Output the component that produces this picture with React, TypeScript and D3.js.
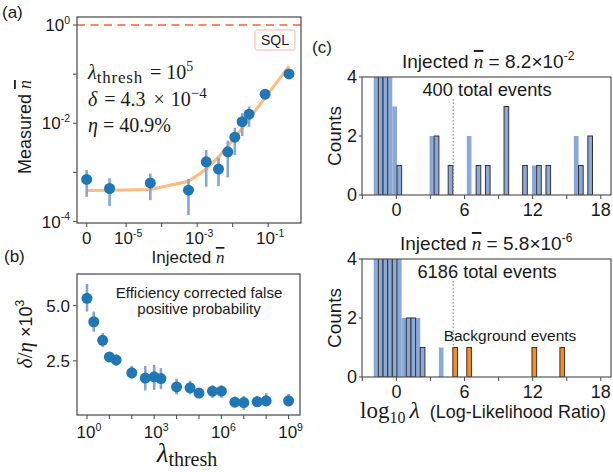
import React from "react"
import * as d3 from "d3"

// ---- panel (a): measured vs injected mean photon number ----
const injected = [0, 5.8e-6, 4.8e-5, 5.7e-4, 1.8e-3, 4.0e-3, 7.3e-3, 1.15e-2, 1.85e-2, 2.9e-2, 8.2e-2, 0.386]
const measured = [7.2e-4, 4.7e-4, 6.1e-4, 4.35e-4, 1.64e-3, 1.17e-3, 2.63e-3, 5.2e-3, 1.08e-2, 1.53e-2, 3.9e-2, 0.101]
const measuredLo = [3.18e-4, 2.05e-4, 2.72e-4, 1.35e-4, 5.1e-4, 5.25e-4, 7.9e-4, 2.25e-3, 5.5e-3, 8.5e-3, 3.6e-2, 0.096]
const measuredHi = [1.11e-3, 7.55e-4, 9.5e-4, 7.3e-4, 2.85e-3, 1.99e-3, 4.4e-3, 8.1e-3, 1.6e-2, 2.18e-2, 4.2e-2, 0.106]
const fitValues = [4.3e-4, 4.32e-4, 4.5e-4, 6.6e-4, 1.17e-3, 2.07e-3, 3.41e-3, 5.13e-3, 8.0e-3, 1.23e-2, 3.34e-2, 0.146]
const aTicksX = [0, 1e-5, 1e-4, 1e-3, 1e-2, 1e-1]
const aTickLabelsX = ["0", "-5", "", "-3", "", "-1"]
const aTicksY = [1, 1e-1, 1e-2, 1e-3, 1e-4]
const aTickLabelsY = ["0", "", "-2", "", "-4"]

// ---- panel (b): efficiency corrected false positive probability ----
const thresholds = [1, 2, 5, 10, 20, 100, 400, 1e3, 2e3, 1e4, 4e4, 1e5, 4e5, 1e6, 4e6, 1e7, 4e7, 1e8, 1e9]
const deltaOverEta = [5.33, 4.27, 3.43, 2.68, 2.54, 1.96, 1.72, 1.78, 1.7, 1.32, 1.28, 1.04, 1.13, 1.13, 0.63, 0.61, 0.65, 0.69, 0.69]
const deltaLo = [4.73, 3.82, 3.12, 2.44, 2.27, 1.67, 1.16, 1.19, 1.22, 0.98, 0.98, 0.81, 0.83, 0.83, 0.41, 0.28, 0.43, 0.43, 0.43]
const deltaHi = [5.98, 4.73, 3.75, 2.87, 2.78, 2.27, 2.27, 2.32, 2.17, 1.69, 1.6, 1.27, 1.4, 1.4, 0.89, 0.92, 0.92, 1.04, 1.0]
const bTicksX = [1, 10, 100, 1e3, 1e4, 1e5, 1e6, 1e7, 1e8, 1e9]
const bTickLabelsX = ["0", "", "", "3", "", "", "6", "", "", "9"]
const bTicksY = [2.5, 5.0]

// ---- panel (c): log-likelihood histograms (bin left edge, count) ----
const binWidth = 0.41
const topPlain = [[-2.0, 9], [-1.59, 9], [-1.18, 9], [-0.77, 9], [-0.36, 3], [2.92, 2], [6.2, 2], [11.94, 1], [15.63, 2]]
const topEdged = [[-1.59, 9], [-1.18, 9], [0.05, 1], [3.33, 2], [4.56, 1], [7.02, 1], [7.84, 1], [9.48, 3], [11.12, 1], [12.35, 1], [13.17, 1], [16.04, 1], [16.86, 2]]
const botPlain = [[-2.0, 9], [-1.59, 9], [-1.18, 9], [-0.77, 9], [-0.36, 9], [0.05, 9], [0.46, 2], [0.87, 2], [1.28, 2], [1.69, 2], [3.74, 1]]
const botEdged = [[-1.59, 9], [-1.18, 9], [-0.77, 9], [-0.36, 9], [0.87, 2], [1.28, 2], [2.1, 1]]
const botBackground = [[4.97, 1], [6.2, 1], [11.94, 1], [14.4, 1]]
const cTicksX = [-3, 0, 3, 6, 9, 12, 15, 18]
const cTicksY = [0, 2, 4]
const logThreshold = 5

const SANS = "'Liberation Sans', Arial, sans-serif"
const SERIF = "'Liberation Serif', 'DejaVu Serif', serif"
const INK = "#1a1a1a"
const FRAME = "#555"
const DOT = "#1f77b4"
const ERR = "#85a5d6"
const BAR = "#8ba9d8"
const ORANGE = "#ff8c1a"

// matplotlib-like symlog (base 10, linscale 1)
const LINTHRESH = 1e-5
const LINSCALE = 1 / (1 - 1 / 10)
const symlog = (v: number) =>
  Math.abs(v) < LINTHRESH
    ? (v / LINTHRESH) * LINSCALE
    : Math.sign(v) * (LINSCALE + Math.log10(Math.abs(v) / LINTHRESH))

const A = { left: 77, right: 301, top: 17, bottom: 223 }
const B = { left: 77, right: 300, top: 274, bottom: 415 }
const C1 = { left: 362, right: 611, top: 77, bottom: 195 }
const C2 = { left: 362, right: 611, top: 259, bottom: 377 }

const Pow = ({ x, y, base, exp, size, anchor = "middle" }: any) => (
  <text x={x} y={y} fontSize={size} textAnchor={anchor} fontFamily={SANS} fill={INK}>
    {base}
    <tspan fontSize={size * 0.62} dy={-size * 0.42}>{exp}</tspan>
  </text>
)

const NBar = () => (
  <tspan fontFamily={SERIF} fontStyle="italic" style={{ textDecoration: "overline" }}>
    n
  </tspan>
)

function PanelA() {
  const tx = d3.scaleLinear().domain([symlog(-2.45e-6), symlog(0.84)]).range([A.left, A.right])
  const x = (v: number) => tx(symlog(v))
  const y = d3.scaleLog().domain([Math.pow(10, -4.03), Math.pow(10, 0.163)]).range([A.bottom, A.top])
  const fit = d3
    .line<number>()
    .x((d, i) => x(injected[i]))
    .y(d => y(d))
  return (
    <g>
      <defs>
        <clipPath id="clipA">
          <rect x={A.left} y={A.top} width={A.right - A.left} height={A.bottom - A.top} />
        </clipPath>
      </defs>
      <g clipPath="url(#clipA)">
        <line x1={A.left} x2={A.right} y1={y(1)} y2={y(1)} stroke="#f4876c" strokeWidth={2.2} strokeDasharray="8,5.5" />
        <path d={fit(fitValues) || ""} fill="none" stroke="#fdbb80" strokeWidth={3} />
        {injected.map((v, i) => (
          <line key={"e" + i} x1={x(v)} x2={x(v)} y1={y(measuredLo[i])} y2={y(measuredHi[i])} stroke={ERR} strokeWidth={2.6} />
        ))}
        {injected.map((v, i) => (
          <circle key={"p" + i} cx={x(v)} cy={y(measured[i])} r={5.5} fill={DOT} />
        ))}
      </g>
      <rect x={A.left} y={A.top} width={A.right - A.left} height={A.bottom - A.top} fill="none" stroke={FRAME} strokeWidth={1.3} />
      <rect x={255} y={30} width={40} height={20} fill="#fff" stroke="#f7b6a6" strokeWidth={1} rx={1.5} />
      <text x={275} y={45} fontSize={14} textAnchor="middle" fontFamily={SANS} fill={INK}>SQL</text>
      {aTicksX.map((t, i) => (
        <g key={"tx" + i}>
          <line x1={x(t)} x2={x(t)} y1={A.bottom} y2={A.bottom + 4} stroke={FRAME} strokeWidth={1.1} />
          {aTickLabelsX[i] === "0" ? (
            <text x={x(t)} y={244} fontSize={17} textAnchor="middle" fontFamily={SANS} fill={INK}>0</text>
          ) : aTickLabelsX[i] ? (
            <Pow x={x(t) + 2} y={244} base="10" exp={aTickLabelsX[i]} size={17} />
          ) : null}
        </g>
      ))}
      {aTicksY.map((t, i) => (
        <g key={"ty" + i}>
          <line x1={A.left - 4} x2={A.left} y1={y(t)} y2={y(t)} stroke={FRAME} strokeWidth={1.1} />
          {aTickLabelsY[i] ? <Pow x={70} y={y(t) + 6} base="10" exp={aTickLabelsY[i]} size={17} anchor="end" /> : null}
        </g>
      ))}
      <text x={88} y={79} fontFamily={SERIF} fontSize={20} fill={INK}>
        <tspan fontStyle="italic">λ</tspan>
        <tspan fontSize={17} dy={4} letterSpacing={0.8}>thresh</tspan>
        <tspan dy={-4} dx={2}> = 10</tspan>
        <tspan fontSize={14} dy={-8}>5</tspan>
      </text>
      <text x={88} y={106} fontFamily={SERIF} fontSize={20} fill={INK}>
        <tspan fontStyle="italic">δ</tspan>
        <tspan dx={2}> = 4.3</tspan>
        <tspan dx={3}> × </tspan>
        <tspan dx={1}>10</tspan>
        <tspan fontSize={15} dy={-8}>−4</tspan>
      </text>
      <text x={88} y={132} fontFamily={SERIF} fontSize={20} fill={INK}>
        <tspan fontStyle="italic">η</tspan>
        <tspan> = 40.9%</tspan>
      </text>
      <text transform="translate(31,127) rotate(-90)" fontSize={18} textAnchor="middle" fontFamily={SANS} fill={INK}>
        Measured <NBar />
      </text>
      <text x={188} y={263} fontSize={17} textAnchor="middle" fontFamily={SANS} fill={INK}>
        Injected <NBar />
      </text>
      <text x={2} y={18} fontSize={17} fontFamily={SANS} fill={INK}>(a)</text>
    </g>
  )
}

function PanelB() {
  const x = d3.scaleLog().domain([Math.pow(10, -0.446), Math.pow(10, 9.51)]).range([B.left, B.right])
  const y = d3.scaleLinear().domain([0.05, 6.43]).range([B.bottom, B.top])
  return (
    <g>
      {thresholds.map((v, i) => (
        <line key={"e" + i} x1={x(v)} x2={x(v)} y1={y(deltaLo[i])} y2={y(deltaHi[i])} stroke={ERR} strokeWidth={2.6} />
      ))}
      {thresholds.map((v, i) => (
        <circle key={"p" + i} cx={x(v)} cy={y(deltaOverEta[i])} r={5.5} fill={DOT} />
      ))}
      <rect x={B.left} y={B.top} width={B.right - B.left} height={B.bottom - B.top} fill="none" stroke={FRAME} strokeWidth={1.3} />
      {bTicksX.map((t, i) => (
        <g key={"tx" + i}>
          <line x1={x(t)} x2={x(t)} y1={B.bottom} y2={B.bottom + 4} stroke={FRAME} strokeWidth={1.1} />
          {bTickLabelsX[i] ? <Pow x={x(t) + 2} y={438} base="10" exp={bTickLabelsX[i]} size={17} /> : null}
        </g>
      ))}
      {bTicksY.map((t, i) => (
        <g key={"ty" + i}>
          <line x1={B.left - 4} x2={B.left} y1={y(t)} y2={y(t)} stroke={FRAME} strokeWidth={1.1} />
          <text x={70} y={y(t) + 6} fontSize={17} textAnchor="end" fontFamily={SANS} fill={INK}>{d3.format(".1f")(t)}</text>
        </g>
      ))}
      <text x={199} y={298} fontSize={15} textAnchor="middle" fontFamily={SANS} fill={INK}>Efficiency corrected false</text>
      <text x={199} y={314} fontSize={15} textAnchor="middle" fontFamily={SANS} fill={INK}>positive probability</text>
      <text transform="translate(32,334) rotate(-90)" fontSize={18} textAnchor="middle" fontFamily={SANS} fill={INK}>
        <tspan fontFamily={SERIF} fontStyle="italic" fontSize={21}>δ</tspan>
        <tspan fontFamily={SERIF} fontSize={21}>/</tspan>
        <tspan fontFamily={SERIF} fontStyle="italic" fontSize={21}>η</tspan>
        <tspan> ×10</tspan>
        <tspan fontSize={12} dy={-8}>3</tspan>
      </text>
      <text x={187} y={462} fontFamily={SERIF} fontSize={27} textAnchor="middle" fill={INK}>
        <tspan fontStyle="italic">λ</tspan>
        <tspan fontSize={20} dy={4}>thresh</tspan>
      </text>
      <text x={4} y={262} fontSize={17} fontFamily={SANS} fill={INK}>(b)</text>
    </g>
  )
}

function Hist({ box, id, plain, edged, background, title, exp, titleX, total, showBg, xLabel }: any) {
  const x = d3.scaleLinear().domain([-3.03, 18.9]).range([box.left, box.right])
  const y = d3.scaleLinear().domain([0, 4]).range([box.bottom, box.top])
  const bar = (d: number[], k: string, fill: string, stroke: string) => (
    <rect
      key={k}
      x={x(d[0])}
      y={y(d[1])}
      width={x(d[0] + binWidth) - x(d[0])}
      height={y(0) - y(d[1])}
      fill={fill}
      stroke={stroke}
      strokeWidth={stroke === "none" ? 0 : 1}
    />
  )
  return (
    <g>
      <defs>
        <clipPath id={id}>
          <rect x={box.left} y={box.top} width={box.right - box.left} height={box.bottom - box.top} />
        </clipPath>
      </defs>
      <g clipPath={`url(#${id})`}>
        {plain.map((d: number[], i: number) => bar(d, "p" + i, BAR, "none"))}
        {edged.map((d: number[], i: number) => bar(d, "e" + i, BAR, "#333"))}
        {background.map((d: number[], i: number) => bar(d, "b" + i, ORANGE, "#333"))}
      </g>
      <line x1={x(logThreshold)} x2={x(logThreshold)} y1={y(0)} y2={y(3.3)} stroke="#777" strokeWidth={1} strokeDasharray="1.5,2" />
      <rect x={box.left} y={box.top} width={box.right - box.left} height={box.bottom - box.top} fill="none" stroke={FRAME} strokeWidth={1.2} />
      {cTicksX.map((t, i) => (
        <g key={"tx" + i}>
          <line x1={x(t)} x2={x(t)} y1={box.bottom} y2={box.bottom + 4} stroke={FRAME} strokeWidth={1.1} />
          {t % 6 === 0 ? (
            <text x={x(t)} y={box.bottom + 21} fontSize={18} textAnchor="middle" fontFamily={SANS} fill={INK}>{t}</text>
          ) : null}
        </g>
      ))}
      {cTicksY.map((t, i) => (
        <g key={"ty" + i}>
          <line x1={box.left - 3} x2={box.left} y1={y(t)} y2={y(t)} stroke={FRAME} strokeWidth={1.1} />
          <text x={357} y={y(t) + 6} fontSize={18} textAnchor="end" fontFamily={SANS} fill={INK}>{t}</text>
        </g>
      ))}
      <text transform={`translate(341,${(box.top + box.bottom) / 2}) rotate(-90)`} fontSize={19} textAnchor="middle" fontFamily={SANS} fill={INK}>Counts</text>
      <text x={titleX} y={box.top - 9} fontSize={19} fontFamily={SANS} fill={INK}>
        Injected <NBar /> = {title}
        <tspan fontSize={12} dy={-8}>{exp}</tspan>
      </text>
      <text x={487} y={box.top + 19} fontSize={18.3} textAnchor="middle" fontFamily={SANS} fill={INK}>{total} total events</text>
      {showBg ? (
        <text x={510} y={box.top + 82} fontSize={15.5} textAnchor="middle" fontFamily={SANS} fill={INK}>Background events</text>
      ) : null}
      {xLabel ? (
        <text x={360} y={418} fontSize={18} fontFamily={SANS} fill={INK}>
          <tspan fontFamily={SERIF} fontSize={23}>log</tspan>
          <tspan fontFamily={SERIF} fontSize={16} dy={5}>10</tspan>
          <tspan fontFamily={SERIF} fontSize={24} fontStyle="italic" dy={-5} dx={4}>λ</tspan>
          <tspan dx={10}>(Log-Likelihood Ratio)</tspan>
        </text>
      ) : null}
    </g>
  )
}

export default function App() {
  return (
    <svg width={613} height={472} style={{ position: "absolute", left: 0, top: 0, background: "#fff" }}>
      <PanelA />
      <PanelB />
      <text x={312} y={53} fontSize={17} fontFamily={SANS} fill={INK}>(c)</text>
      <Hist box={C1} id="clipC1" plain={topPlain} edged={topEdged} background={[]} title="8.2×10" exp="-2" titleX={402} total="400" />
      <Hist box={C2} id="clipC2" plain={botPlain} edged={botEdged} background={botBackground} title="5.8×10" exp="-6" titleX={400} total="6186" showBg xLabel />
    </svg>
  )
}
